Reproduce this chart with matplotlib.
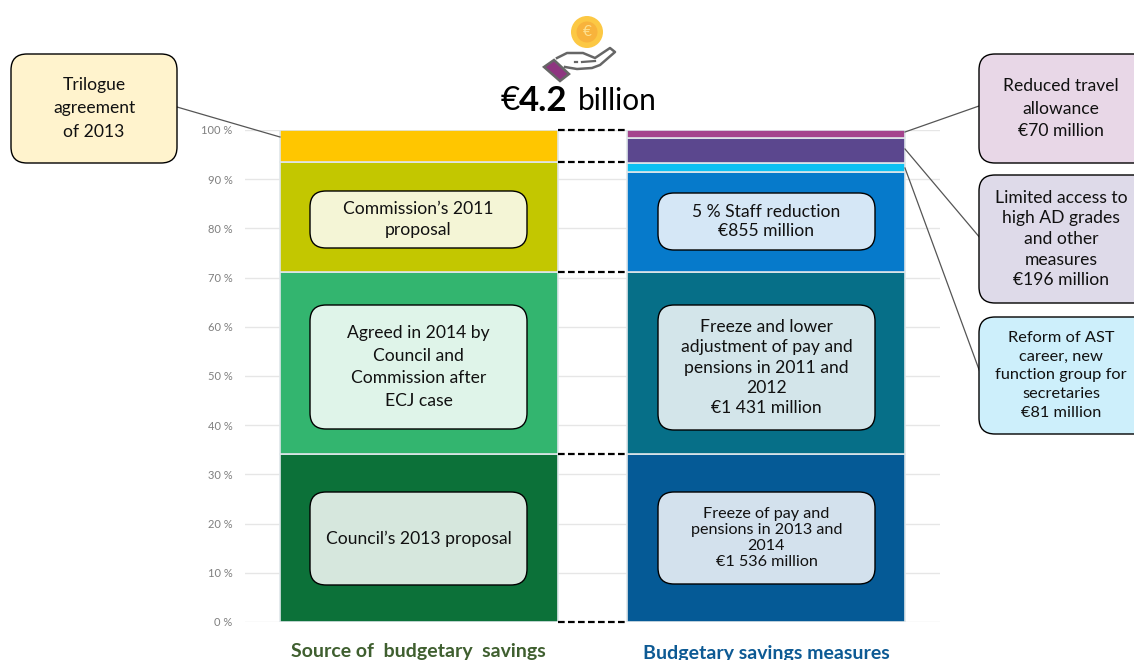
import numpy as np
import matplotlib
matplotlib.use('Agg')
import matplotlib.pyplot as plt
from matplotlib.patches import FancyBboxPatch, Circle, Polygon

plt.rcParams['font.family'] = ['Lato', 'DejaVu Sans']

categories = ['Source of  budgetary  savings', 'Budgetary savings measures']
left_values = [34.1, 37.0, 22.4, 6.5]
left_colors = ['#0c7139', '#33b56f', '#c3c700', '#ffc600']
right_values = [34.1, 37.0, 20.3, 1.9, 5.1, 1.6]
right_colors = ['#055a96', '#066f88', '#067acb', '#0cc0f2', '#5b478e', '#a4438d']
yticks = np.arange(0, 101, 10)
ytick_labels = ['{} %'.format(t) for t in yticks]
# (x0, y0, x1, y1, face, text, size, line spacing)
boxes = [
    (310, 191, 527, 248, '#f4f5d6', 'Commission’s 2011\nproposal', 12.6, 1.42),
    (310, 305, 527, 429, '#dff4e9', 'Agreed in 2014 by\nCouncil and\nCommission after\nECJ case', 12.6, 1.5),
    (310, 492, 527, 585, '#d6e7dd', 'Council’s 2013 proposal', 12.6, 1.2),
    (658, 193, 875, 250, '#d5e7f6', '5 % Staff reduction\n€855 million', 12.6, 1.22),
    (658, 305, 875, 430, '#d3e5ea', 'Freeze and lower\nadjustment of pay and\npensions in 2011 and\n2012\n€1 431 million', 12.6, 1.33),
    (658, 492, 875, 584, '#d3e1ed', 'Freeze of pay and\npensions in 2013 and\n2014\n€1 536 million', 11.6, 1.2),
    (11, 54, 177, 163, '#fff3cd', 'Trilogue\nagreement\nof 2013', 12.6, 1.55),
    (979, 54, 1150, 163, '#e8d7e7', 'Reduced travel\nallowance\n€70 million', 12.6, 1.5),
    (979, 175, 1150, 303, '#dedae9', 'Limited access to\nhigh AD grades\nand other\nmeasures\n€196 million', 12.6, 1.36),
    (979, 317, 1150, 434, '#cdeffb', 'Reform of AST\ncareer, new\nfunction group for\nsecretaries\n€81 million', 11.8, 1.42),
]
# callout lines and dashed links between the two stacks
callouts = [(177, 107, 280, 137), (905, 132, 979, 106), (905, 149, 981, 239), (905, 168, 981, 375)]
dash_levels = [0, 34.1, 71.1, 93.5, 100]

fig = plt.figure(figsize=(11.34, 6.6), dpi=100)
ax = fig.add_axes([245/1134, 1-622/660, (940-245)/1134, (622-130)/660])

def stack(x, values, colors):
    bottom = 0
    for v, c in zip(values, colors):
        ax.bar(x, v, 0.8, bottom=bottom, color=c, edgecolor='#dfe6ea', linewidth=1.2, zorder=3)
        bottom += v

stack(0, left_values, left_colors)
stack(1, right_values, right_colors)
for lev in dash_levels:
    ax.plot([0.4, 0.6], [lev, lev], color='black', lw=1.6, ls=(0, (3, 1.5)), zorder=4, clip_on=False)

ax.set_xlim(-0.5, 1.5)
ax.set_ylim(0, 100)
ax.set_xticks([])
ax.set_yticks(yticks)
ax.set_yticklabels(ytick_labels, fontsize=8, color='#7f7f7f')
ax.tick_params(axis='y', length=0, pad=9)
ax.grid(axis='y', color='#e6e6e6', lw=1, zorder=0)
for s in ax.spines.values():
    s.set_visible(False)

# overlay in pixel coordinates for boxes and icon
ov = fig.add_axes([0, 0, 1, 1])
ov.set_xlim(0, 1134)
ov.set_ylim(660, 0)
ov.axis('off')
ov.patch.set_alpha(0)

for x0, y0, x1, y1 in callouts:
    ov.plot([x0, x1], [y0, y1], color='#555555', lw=0.9, zorder=1)

for x0, y0, x1, y1, face, txt, size, spacing in boxes:
    ov.add_patch(FancyBboxPatch((x0+16, y0+16), x1-x0-32, y1-y0-32, boxstyle='round,pad=16,rounding_size=16',
                                fc=face, ec='black', lw=1, zorder=2))
    xc = (x0 + x1)/2
    if x1 > 1134:
        xc = 1061
    ov.text(xc, (y0+y1)/2, txt, ha='center', va='center', fontsize=size, color='#111111',
            linespacing=spacing, zorder=3)

ov.text(418, 651, categories[0], ha='center', va='center', fontsize=14, fontweight='bold', color='#3f5f2f')
ov.text(766, 653, categories[1], ha='center', va='center', fontsize=14, fontweight='bold', color='#0d5a94')

# headline
ov.text(501, 101, '€', ha='left', va='center', fontsize=24, color='black')
ov.text(519, 101, '4.2', ha='left', va='center', fontsize=25, fontweight='bold', color='black')
ov.text(578, 101, 'billion', ha='left', va='center', fontsize=21.5, color='black')

# coin and hand icon
ov.add_patch(Circle((587, 32), 16, fc='#fcc844', ec='none'))
ov.add_patch(Circle((587, 32), 10.5, fc='#f8b33c', ec='none'))
ov.text(587, 32, '€', ha='center', va='center', fontsize=11, color='#fde08f')
ov.plot([557, 567, 583, 595, 610, 615, 600, 592, 577, 565],
        [58, 53, 53, 58, 48, 52, 65, 68, 69, 67], color='#666666', lw=1.8)
ov.plot([582, 595], [62, 61], color='#666666', lw=1.6)
ov.plot([575, 577], [62, 62], color='#666666', lw=1.6)
ov.add_patch(Polygon([[544, 67], [554, 60], [569, 74], [560, 81]], fc='#8e3580', ec='#666666', lw=1.8))

fig.savefig('out.png', dpi=100)
